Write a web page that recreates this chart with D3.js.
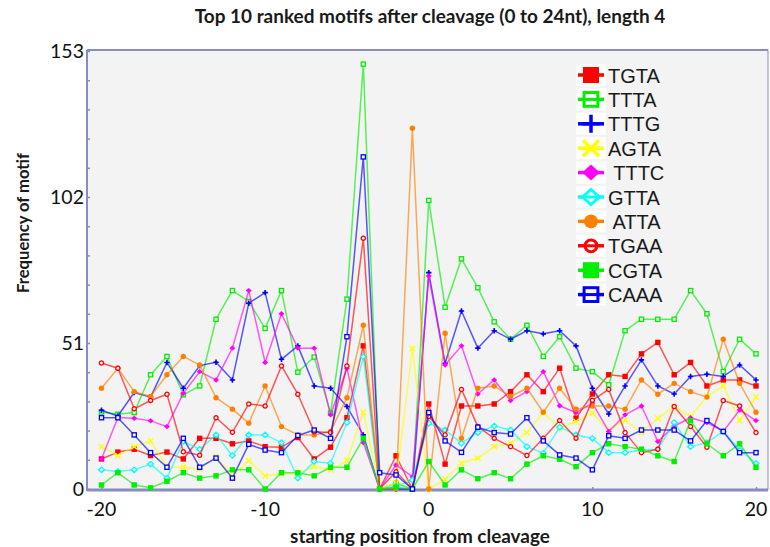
<!DOCTYPE html>
<html>
<head>
<meta charset="utf-8">
<script src="https://cdn.jsdelivr.net/npm/d3@7"></script>
<style>
  body { margin: 0; background: #fff; }
  svg { display: block; }
</style>
</head>
<body>
<svg id="chart" width="770" height="547"></svg>
<script>
// Starting positions relative to the cleavage site
const positions = d3.range(-20, 21);

// Motif names and the labels shown in the legend
const motifs = ["TGTA", "TTTA", "TTTG", "AGTA", "TTTC", "GTTA", "ATTA", "TGAA", "CGTA", "CAAA"];
const legendLabels = ["TGTA", "TTTA", "TTTG", "AGTA", " TTTC", "GTTA", " ATTA", "TGAA", "CGTA", "CAAA"];

// Motif frequency at each position, -20 .. 20
const TGTA = [10.5, 12.9, 13.9, 11.7, 12.9, 10.5, 17.7, 17.7, 15.8, 16.8, 14.8, 14.6, 18.0, 10.5, 14.6, 24.9, 50.0, 0, 11.6, 0,
              29.7, 8.7, 29.0, 29.0, 29.7, 34.0, 39.9, 34.0, 42.2, 24.7, 33.2, 39.9, 39.3, 47.2, 51.2, 39.9, 44.2, 36.0, 38.1, 38.1, 36.0];
const TTTA = [26.9, 26.1, 26.7, 39.9, 46.3, 32.9, 36.0, 59.3, 69.3, 65.5, 56.1, 69.3, 40.8, 46.1, 26.5, 66.3, 148.4, 0, 2.0, 0,
              100.8, 63.5, 80.4, 70.3, 58.4, 52.3, 57.2, 46.3, 53.2, 42.2, 41.0, 36.4, 55.3, 59.3, 59.3, 59.3, 69.3, 61.2, 41.0, 52.3, 47.2];
const TTTG = [27.5, 25.5, 33.7, 32.1, 44.2, 35.2, 43.1, 44.3, 38.1, 64.9, 68.6, 45.3, 50.0, 36.0, 35.2, 28.8, 18.9, 0, 0, 0,
              75.6, 43.9, 62.2, 49.2, 55.3, 52.3, 55.3, 54.2, 55.3, 50.0, 35.2, 26.2, 36.0, 45.1, 36.0, 33.2, 39.3, 40.1, 39.3, 43.3, 38.1];
const AGTA = [14.8, 11.6, 14.8, 16.8, 7.6, 7.6, 6.9, 11.3, 4.6, 9.9, 4.6, 5.3, 5.3, 7.8, 6.7, 9.9, 26.8, 0, 2.0, 49.1,
              0, 3.4, 9.0, 10.8, 14.8, 16.0, 19.7, 26.7, 21.2, 23.6, 26.5, 20.5, 24.1, 19.7, 24.7, 28.8, 25.3, 32.3, 36.0, 23.9, 32.1];
const TTTC = [10.5, 25.0, 24.7, 23.8, 21.8, 33.4, 41.0, 38.1, 49.2, 69.3, 44.2, 61.2, 49.2, 49.2, 25.9, 42.2, 16.2, 0, 8.4, 4.3,
              74.4, 43.3, 50.0, 33.2, 38.1, 30.9, 34.0, 41.0, 29.1, 26.7, 30.0, 20.1, 25.9, 29.0, 16.6, 22.0, 24.9, 23.2, 20.1, 27.6, 23.9];
const GTTA = [6.7, 6.1, 6.7, 8.7, 3.8, 16.6, 13.9, 18.9, 11.7, 18.9, 18.9, 16.2, 3.8, 9.6, 9.0, 23.2, 46.2, 0, 1.0, 3.1,
              23.0, 20.6, 16.0, 19.7, 22.0, 20.6, 14.8, 12.5, 21.6, 18.9, 17.7, 12.7, 12.7, 13.6, 13.9, 23.2, 14.8, 16.2, 20.1, 13.6, 9.0];
const ATTA = [35.2, 42.2, 34.0, 32.3, 39.9, 46.3, 43.3, 31.9, 27.9, 23.0, 36.0, 21.8, 18.9, 18.9, 20.1, 31.9, 57.2, 0, 0, 126.0,
              0, 54.4, 17.7, 35.2, 36.0, 32.3, 35.2, 26.8, 35.2, 27.9, 29.0, 29.0, 27.9, 38.1, 33.1, 36.9, 34.0, 32.1, 52.3, 36.9, 26.8];
const TGAA = [44.0, 42.2, 28.0, 30.9, 33.1, 13.0, 11.8, 24.9, 19.8, 29.7, 29.0, 43.0, 33.1, 20.0, 19.7, 43.0, 87.6, 0, 6.0, 0,
              25.3, 18.9, 34.8, 21.8, 17.7, 14.8, 11.7, 17.7, 23.9, 17.7, 31.0, 34.8, 19.7, 12.7, 13.9, 28.8, 21.8, 14.6, 30.9, 29.0, 19.7];
const CGTA = [1.4, 5.7, 1.4, 0.4, 2.7, 5.7, 3.8, 4.6, 6.7, 6.7, 0, 5.7, 5.7, 4.6, 7.6, 7.6, 17.7, 0, 0.6, 0,
              9.6, 1.4, 6.7, 3.6, 5.7, 3.6, 8.7, 11.6, 10.4, 7.8, 12.7, 15.8, 14.8, 13.9, 11.6, 9.6, 23.9, 15.8, 11.6, 15.8, 7.6];
const CAAA = [24.9, 24.9, 18.9, 12.7, 7.6, 17.7, 7.6, 10.8, 3.8, 15.6, 13.6, 12.7, 18.7, 20.6, 17.7, 53.2, 116.0, 5.7, 4.9, 0,
              26.7, 16.8, 12.8, 21.6, 19.7, 19.2, 24.9, 16.8, 11.9, 10.8, 6.7, 18.6, 17.7, 20.6, 20.6, 20.6, 16.8, 23.9, 20.1, 12.7, 12.7];

// Axis ticks
const yMajorTicks = [0, 51, 102, 153];
const yMinorStep = 10.2;
const xTicks = [-20, -10, 0, 10, 20];

const seriesValues = [TGTA, TTTA, TTTG, AGTA, TTTC, GTTA, ATTA, TGAA, CGTA, CAAA];
const seriesColors = ["#ff0000", "#00ee00", "#0000ff", "#ffff00", "#ff00ff", "#00ffff", "#ff8000", "#ff0000", "#00ee00", "#0000ff"];
const seriesShapes = ["squareFill", "squareOpen", "plus", "cross", "diamondFill", "diamondOpen", "circleFill", "circleOpen", "squareFill", "squareOpen"];

const series = motifs.map((name, i) => ({
  name, label: legendLabels[i], color: seriesColors[i], shape: seriesShapes[i],
  points: positions.map((p, j) => ({ x: p, y: seriesValues[i][j] }))
}));

// ---- layout ----
const svg = d3.select("#chart");
const frame = { left: 87, right: 768, top: 50, bottom: 490 };
const bg = "#f3f3f3";
const axisColor = "#8a8ac4";

const x = d3.scaleLinear().domain([-20, 20]).range([101.5, 756]);
const y = d3.scaleLinear().domain([0, 153]).range([489, 51]);

function fitWidth(sel, w) {
  const cur = sel.node().getComputedTextLength();
  const fs = parseFloat(sel.attr("font-size"));
  sel.attr("font-size", fs * w / cur);
}

// plot background
svg.append("rect")
  .attr("x", frame.left).attr("y", frame.top)
  .attr("width", frame.right - frame.left).attr("height", frame.bottom - frame.top)
  .attr("fill", bg);

// y ticks (minor ones every 10.2, labels on the majors)
const yTickVals = d3.range(0, 153.01, yMinorStep);
const yAxis = svg.append("g")
  .attr("transform", `translate(${frame.left},0)`)
  .call(d3.axisLeft(y).tickValues(yTickVals).tickSize(-3).tickFormat(() => ""));
yAxis.select(".domain").remove();
yAxis.selectAll(".tick line").attr("stroke", axisColor).attr("stroke-width", 1.5);

svg.append("g").selectAll("text")
  .data(yMajorTicks).join("text")
  .attr("x", frame.left - 3)
  .attr("y", d => y(d))
  .attr("dy", "0.36em")
  .attr("text-anchor", "end")
  .attr("font-family", "Lato, 'Open Sans', sans-serif")
  .attr("font-size", 19.5)
  .attr("fill", "#111")
  .text(d => d);

// x ticks
const xAxis = svg.append("g")
  .attr("transform", `translate(0,${frame.bottom})`)
  .call(d3.axisBottom(x).tickValues(xTicks).tickSize(-3).tickPadding(0).tickFormat(() => ""));
xAxis.select(".domain").remove();
xAxis.selectAll(".tick line").attr("stroke", axisColor).attr("stroke-width", 1.5);

svg.append("g").selectAll("text")
  .data(xTicks).join("text")
  .attr("x", d => x(d))
  .attr("y", 516)
  .attr("text-anchor", "middle")
  .attr("font-family", "Lato, 'Open Sans', sans-serif")
  .attr("font-size", 19.5)
  .attr("fill", "#111")
  .text(d => d);

// frame lines
svg.append("line").attr("x1", frame.left).attr("x2", frame.right).attr("y1", frame.top).attr("y2", frame.top)
  .attr("stroke", axisColor).attr("stroke-width", 2);
svg.append("line").attr("x1", frame.right).attr("x2", frame.right).attr("y1", frame.top).attr("y2", frame.bottom)
  .attr("stroke", axisColor).attr("stroke-width", 1);
svg.append("line").attr("x1", frame.left).attr("x2", frame.left).attr("y1", frame.top).attr("y2", frame.bottom + 1)
  .attr("stroke", axisColor).attr("stroke-width", 2);
svg.append("line").attr("x1", frame.left).attr("x2", frame.right).attr("y1", frame.bottom).attr("y2", frame.bottom)
  .attr("stroke", axisColor).attr("stroke-width", 3);

// ---- series ----
function drawShape(g, shape, color, s) {
  // s = half size of the marker
  const open = bg;
  switch (shape) {
    case "squareFill":
      g.append("rect").attr("x", -s).attr("y", -s).attr("width", 2 * s).attr("height", 2 * s).attr("fill", color);
      break;
    case "squareOpen":
      g.append("rect").attr("x", -s + 0.6).attr("y", -s + 0.6).attr("width", 2 * s - 1.2).attr("height", 2 * s - 1.2)
        .attr("fill", open).attr("stroke", color).attr("stroke-width", 1.3);
      break;
    case "plus":
      g.append("path").attr("d", `M${-s},0H${s}M0,${-s}V${s}`).attr("stroke", color).attr("stroke-width", 1.6);
      g.append("circle").attr("r", s * 0.45).attr("fill", color);
      break;
    case "cross":
      g.append("path").attr("d", `M${-s},${-s}L${s},${s}M${-s},${s}L${s},${-s}`).attr("stroke", color).attr("stroke-width", 1.4);
      break;
    case "diamondFill":
      g.append("path").attr("d", `M0,${-s}L${s * 1.1},0L0,${s}L${-s * 1.1},0Z`).attr("fill", color);
      break;
    case "diamondOpen":
      g.append("path").attr("d", `M0,${-s}L${s * 1.1},0L0,${s}L${-s * 1.1},0Z`).attr("fill", open)
        .attr("stroke", color).attr("stroke-width", 1.3);
      break;
    case "circleFill":
      g.append("circle").attr("r", s).attr("fill", color);
      break;
    case "circleOpen":
      g.append("circle").attr("r", s - 0.6).attr("fill", open).attr("stroke", color).attr("stroke-width", 1.3);
      break;
  }
}

const line = d3.line().x(d => x(d.x)).y(d => y(d.y));

const seriesG = svg.append("g").selectAll("g.series").data(series).join("g").attr("class", "series");

seriesG.append("path")
  .attr("d", d => line(d.points))
  .attr("fill", "none")
  .attr("stroke", d => d.color)
  .attr("stroke-width", 1.5)
  .attr("stroke-opacity", 0.65)
  .attr("stroke-linejoin", "round");

seriesG.each(function (d) {
  const g = d3.select(this);
  d.points.forEach(p => {
    const m = g.append("g").attr("transform", `translate(${x(p.x)},${y(p.y)})`);
    drawShape(m, d.shape, d.color, 2.7);
  });
});

// ---- legend ----
const legend = svg.append("g").attr("transform", "translate(578,75)");
const legendRow = legend.selectAll("g").data(series).join("g")
  .attr("transform", (d, i) => `translate(0,${i * 24.4})`);

legendRow.append("rect")
  .attr("x", -2).attr("y", -11).attr("width", 30).attr("height", 22)
  .attr("fill", "#ffffff");

legendRow.append("line")
  .attr("x1", 0).attr("x2", 26).attr("y1", 0).attr("y2", 0)
  .attr("stroke", d => d.color).attr("stroke-width", 3.5);

legendRow.each(function (d) {
  const m = d3.select(this).append("g").attr("transform", "translate(13,0)");
  const big = { squareFill: 8, squareOpen: 7.5, plus: 9, cross: 8, diamondFill: 8, diamondOpen: 7.5, circleFill: 7, circleOpen: 6.5 };
  const s = big[d.shape];
  if (d.shape === "squareOpen" || d.shape === "diamondOpen" || d.shape === "circleOpen") {
    const g = m.append("g");
    drawShape(g, d.shape, d.color, s);
    g.selectAll("rect,path,circle").attr("stroke-width", 3).attr("fill", "#ffffff");
    m.append("line").attr("x1", -s).attr("x2", s).attr("stroke", d.color).attr("stroke-width", 3);
  } else if (d.shape === "plus" || d.shape === "cross") {
    const g = m.append("g");
    drawShape(g, d.shape, d.color, s);
    g.selectAll("path").attr("stroke-width", 3.5);
    g.selectAll("circle").remove();
  } else {
    drawShape(m, d.shape, d.color, s);
  }
});

legendRow.append("text")
  .attr("x", 30).attr("y", 7.5)
  .attr("font-family", "'Liberation Sans', Arial, sans-serif")
  .attr("font-size", 20)
  .attr("fill", "#1a1a1a")
  .style("white-space", "pre")
  .text(d => d.label);

// ---- titles ----
const title = svg.append("text")
  .attr("x", 430).attr("y", 23)
  .attr("text-anchor", "middle")
  .attr("font-family", "Lato, 'Open Sans', sans-serif")
  .attr("font-weight", 700)
  .attr("font-size", 16)
  .attr("fill", "#1a1a1a")
  .text("Top 10 ranked motifs after cleavage (0 to 24nt), length 4");
fitWidth(title, 471);

const xTitle = svg.append("text")
  .attr("x", 420).attr("y", 543)
  .attr("text-anchor", "middle")
  .attr("font-family", "Lato, 'Open Sans', sans-serif")
  .attr("font-weight", 700)
  .attr("font-size", 17)
  .attr("fill", "#1a1a1a")
  .text("starting position from cleavage");
fitWidth(xTitle, 260);

const yTitle = svg.append("text")
  .attr("transform", "translate(29,223) rotate(-90)")
  .attr("text-anchor", "middle")
  .attr("font-family", "Lato, 'Open Sans', sans-serif")
  .attr("font-weight", 700)
  .attr("font-size", 17)
  .attr("fill", "#1a1a1a")
  .text("Frequency of motif");
fitWidth(yTitle, 140);
</script>
</body>
</html>
